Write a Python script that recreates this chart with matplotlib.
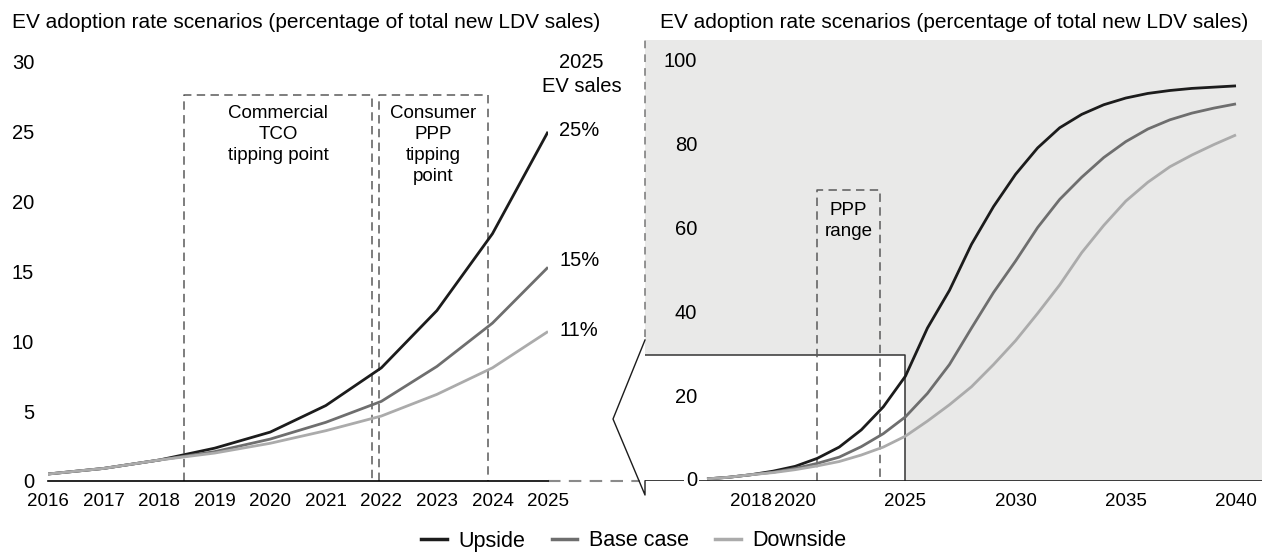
"""EV adoption rate scenarios: near-term (to 2025) and long-term (to 2040) views."""

import matplotlib

matplotlib.use("Agg")
import matplotlib.pyplot as plt
from matplotlib.lines import Line2D

plt.rcParams["font.family"] = ["Liberation Sans", "DejaVu Sans"]

# ---- data -------------------------------------------------------------
years = list(range(2016, 2041))
upside = [0.5, 0.9, 1.5, 2.35, 3.5, 5.4, 8.1, 12.2, 17.7, 25.0,
          36.5, 45.5, 56.5, 65.5, 73.2, 79.5, 84.3, 87.5, 89.8, 91.4,
          92.5, 93.2, 93.7, 94.0, 94.3]
base_case = [0.5, 0.9, 1.5, 2.1, 3.0, 4.2, 5.7, 8.2, 11.3, 15.3,
             20.9, 27.8, 36.5, 45.0, 52.5, 60.5, 67.2, 72.5, 77.2, 81.0,
             84.0, 86.2, 87.8, 89.0, 90.0]
downside = [0.5, 0.9, 1.5, 2.0, 2.7, 3.6, 4.65, 6.2, 8.1, 10.7,
            14.3, 18.2, 22.5, 27.8, 33.5, 40.0, 46.8, 54.5, 61.0, 66.8,
            71.3, 75.0, 77.8, 80.3, 82.6]
series_names = ["Upside", "Base case", "Downside"]
end_labels = ["25%", "15%", "11%"]

left_xticks = list(range(2016, 2026))
left_yticks = [0, 5, 10, 15, 20, 25, 30]
right_xticks = [2018, 2020, 2025, 2030, 2035, 2040]
right_yticks = [0, 20, 40, 60, 80, 100]

# tipping point windows (start, end) in years
tco_window = (2018.45, 2021.83)
ppp_window = (2021.95, 2023.92)
ppp_range = (2021.0, 2023.85)

title = "EV adoption rate scenarios (percentage of total new LDV sales)"

colors = ["#1c1c1c", "#6e6e6e", "#ababab"]
box_color = "#5a5a5a"
bg_gray = "#e9e9e8"
FS_TICK = 13.5
FS_Y = 14.5

W, H = 1267, 552
fig = plt.figure(figsize=(W / 100, H / 100), dpi=100)


def px_axes(x0, y0, x1, y1):
    """Axes from pixel box (left, top, right, bottom)."""
    return fig.add_axes([x0 / W, 1 - y1 / H, (x1 - x0) / W, (y1 - y0) / H])


# ---- left panel -------------------------------------------------------
axl = px_axes(48, 40, 548, 481)
n_left = len(left_xticks)
for vals, c in zip([upside, base_case, downside], colors):
    axl.plot(years[:n_left], vals[:n_left], color=c, lw=2.0, zorder=3,
             solid_capstyle="butt")
axl.set_xlim(2016, 2025)
axl.set_ylim(0, 441 / 13.97)
for s in ["top", "right", "left"]:
    axl.spines[s].set_visible(False)
axl.spines["bottom"].set_linewidth(1.2)
axl.set_xticks(left_xticks)
axl.set_yticks(left_yticks)
axl.tick_params(axis="x", length=0, labelsize=FS_TICK, pad=9)
axl.tick_params(axis="y", length=0, labelsize=FS_Y, pad=10)

box_top = 27.6
dash = (0, (5.5, 3.5))
for x0, x1 in [tco_window, ppp_window]:
    axl.plot([x0, x0, x1, x1], [0, box_top, box_top, 0], color=box_color,
             lw=1.1, linestyle=dash, zorder=2)
axl.text(sum(tco_window) / 2, 26.9, "Commercial\nTCO\ntipping point",
         ha="center", va="top", fontsize=13.5, linespacing=1.3)
axl.text(sum(ppp_window) / 2, 26.9, "Consumer\nPPP\ntipping\npoint",
         ha="center", va="top", fontsize=13.5, linespacing=1.3)

for vals, lab in zip([upside, base_case, downside], end_labels):
    y = vals[n_left - 1]
    axl.text(2025.2, y + (0.5 if lab == "15%" else 0.1), lab, ha="left",
             va="center", fontsize=14.5, clip_on=False)
axl.text(2025.6, 29.1, "2025\nEV sales", ha="center", va="center",
         fontsize=14.5, linespacing=1.35, clip_on=False)

# gray dashed continuation of the zero line towards the right panel
axl.plot([2025, 2026.65], [0, 0], color="#8a8a8a", lw=1.5,
         linestyle=(0, (6, 4)), clip_on=False)

fig.text(12 / W, 1 - 22 / H, title, ha="left", va="center", fontsize=15)

# ---- right panel ------------------------------------------------------
axr = px_axes(645, 40, 1262, 481)
axr.set_facecolor(bg_gray)
px_per_year = (1236 - 707) / 24
rx0 = 2016 - (707 - 645) / px_per_year
rx1 = 2040 + (1262 - 1236) / px_per_year
axr.set_xlim(rx0, rx1)
axr.set_ylim(0, 441 / 4.19)
for s in ["top", "right", "left", "bottom"]:
    axr.spines[s].set_visible(False)

# white zoom window (0-30 %, up to 2025)
axr.fill_between([rx0, 2025], 0, 30, color="white", zorder=0.5, lw=0)
axr.plot([rx0, 2025, 2025], [30, 30, 0], color="#333333", lw=1.1, zorder=1)

for vals, c in zip([upside, base_case, downside], colors):
    axr.plot(years, vals, color=c, lw=2.0, zorder=3, solid_capstyle="butt")

axr.plot([ppp_range[0], ppp_range[0], ppp_range[1], ppp_range[1]],
         [0, 69.5, 69.5, 0], color=box_color, lw=1.1, linestyle=dash,
         zorder=2)
axr.text(sum(ppp_range) / 2, 62.0, "PPP\nrange", ha="center", va="center",
         fontsize=13.5, linespacing=1.3)

axr.axhline(0, color="#1c1c1c", lw=1.2, zorder=4)
axr.set_yticks([])
y_lab_x = 2016 - (707 - 697) / px_per_year
for t in right_yticks:
    axr.text(y_lab_x, t, str(t), ha="right", va="center", fontsize=FS_Y,
             zorder=5,
             bbox=dict(facecolor="white", edgecolor="none", pad=1.5)
             if t == 0 else None)
axr.set_xticks(right_xticks)
axr.tick_params(axis="x", length=0, labelsize=FS_TICK, pad=9)

# dashed left edge of the shaded panel
axr.plot([rx0, rx0], [34.3, 441 / 4.19], color="#777777", lw=1.1,
         linestyle=(0, (5, 4)), clip_on=False)

fig.text(660 / W, 1 - 22 / H, title, ha="left", va="center", fontsize=15)

# zoom connector "<" between the panels
conn_x = [645, 613, 645, 645]
conn_y = [340, 419, 495, 481]
fig.add_artist(Line2D([x / W for x in conn_x], [1 - y / H for y in conn_y],
                      color="#1c1c1c", lw=1.0))

# ---- legend -----------------------------------------------------------
handles = [Line2D([], [], color=c, lw=2.5) for c in colors]
fig.legend(handles, series_names, loc="center", ncol=3, frameon=False,
           bbox_to_anchor=(634 / W, 1 - 541 / H), fontsize=15.5,
           handlelength=1.2, columnspacing=1.2, handletextpad=0.55)

fig.savefig("out.png", dpi=100)
